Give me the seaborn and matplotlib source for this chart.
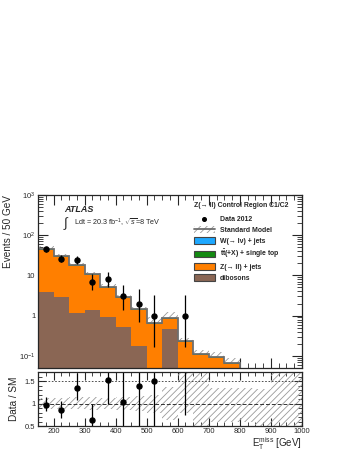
import numpy as np
import pandas as pd
import seaborn as sns
import matplotlib.pyplot as plt
from matplotlib.patches import Patch
from matplotlib.lines import Line2D
from matplotlib.ticker import MultipleLocator, LogLocator, NullFormatter

# ---------------- data ----------------
bin_low = [150, 200, 250, 300, 350, 400, 450, 500, 550, 600, 650, 700, 750, 800, 850, 900, 950]
bin_edges = bin_low + [1000]

wjets = [0.1, 0.05, 0.05, 0.02, 0.01, 0.01, 0.005, 0.0, 0.0, 0.0, 0.0, 0.0, 0.0, 0.0, 0.0, 0.0, 0.0]
ttbar = [2.5, 1.8, 1.0, 0.6, 0.3, 0.15, 0.08, 0.04, 0.04, 0.01, 0.004, 0.004, 0.002, 0.0, 0.0, 0.0, 0.0]
zjets = [38.9, 25.9, 15.6, 8.9, 4.04, 2.21, 1.17, 0.60, 0.37, 0.22, 0.106, 0.091, 0.063, 0.02, 0.015, 0.01, 0.01]
dibosons = [3.9, 2.85, 1.17, 1.4, 0.91, 0.51, 0.18, 0.03, 0.47, 0.0, 0.0, 0.0, 0.0, 0.0, 0.0, 0.0, 0.0]

data_2012 = [44, 26, 24, 7, 8, 3, 2, 1, 0, 1, 0, 0, 0, 0, 0, 0, 0]
data_err_lo = [6.6, 5.1, 4.9, 2.6, 2.8, 1.6, 1.3, 0.83, 0, 0.83, 0, 0, 0, 0, 0, 0, 0]
data_err_hi = [7.7, 6.2, 6.0, 3.8, 3.9, 2.9, 2.6, 2.3, 0, 2.3, 0, 0, 0, 0, 0, 0, 0]

# SM uncertainty (relative upper edge) in the main panel
sm_unc_up = [1.16, 1.12, 1.13, 1.13, 1.13, 1.13, 1.15, 1.37, 1.37, 1.2, 1.25, 1.34, 1.33, 1.3, 1.3, 1.3, 1.3]
# SM band in the ratio panel
ratio_band_lo = [0.88, 0.88, 0.87, 0.86, 0.87, 0.86, 0.84, 0.80, 0.63, 0.78, 0.5, 0.58, 0.58, 0.58, 0.5, 0.5, 0.5]
ratio_band_hi = [1.12, 1.13, 1.14, 1.14, 1.13, 1.15, 1.17, 1.20, 1.37, 1.7, 1.7, 1.35, 1.35, 1.35, 1.33, 1.7, 1.7]

processes = ['W(→ lν) + jets', r'$\mathregular{t\bar{t}}$(+X) + single top', 'Z(→ ll) + jets', 'dibosons']
colours = ['#1ea8ff', '#138a12', '#ff7f00', '#8a6654']

# ---------------- table for seaborn ----------------
centres = [b + 25 for b in bin_low]
rows = []
for name, vals in zip(processes, [wjets, ttbar, zjets, dibosons]):
    for c, v in zip(centres, vals):
        rows.append({'met': c, 'events': v, 'process': name})
df = pd.DataFrame(rows)

sm_total = np.array(wjets) + np.array(ttbar) + np.array(zjets) + np.array(dibosons)
data_arr = np.array(data_2012, dtype=float)
has_data = data_arr > 0

sns.set_theme(style='ticks')
plt.rcParams['font.family'] = ['Liberation Sans', 'DejaVu Sans']
plt.rcParams['mathtext.fontset'] = 'custom'
plt.rcParams['mathtext.rm'] = 'Liberation Sans'
plt.rcParams['mathtext.it'] = 'Liberation Sans:italic'
plt.rcParams['hatch.linewidth'] = 0.6

fig = plt.figure(figsize=(3.49, 4.51), dpi=100)
ax = fig.add_axes([0.109, 0.184, 0.756, 0.384])
axr = fig.add_axes([0.109, 0.0554, 0.756, 0.1197])

# ---------------- main panel ----------------
sns.histplot(data=df, x='met', weights='events', hue='process', hue_order=processes,
             multiple='stack', bins=bin_edges, element='step', palette=colours,
             alpha=1, linewidth=0, legend=False, ax=ax)

ax.stairs(sm_total * np.array(sm_unc_up), bin_edges, baseline=sm_total, fill=True,
          facecolor='none', edgecolor='#9a9a9a', hatch='/////', linewidth=0)
ax.stairs(sm_total, bin_edges, color='#6e6e6e', linewidth=1.3)

ax.errorbar(np.array(centres)[has_data], data_arr[has_data],
            yerr=[np.array(data_err_lo)[has_data], np.array(data_err_hi)[has_data]],
            fmt='o', color='black', ms=3.6, elinewidth=0.9, capsize=0)

ax.set_yscale('log')
ax.set_xlim(150, 1000)
ax.set_ylim(0.05, 1000)
ax.set_yticks([0.1, 1, 10, 100, 1000])
ax.set_yticklabels(['$10^{-1}$', '1', '10', '$10^2$', '$10^3$'])
ax.yaxis.set_minor_locator(LogLocator(base=10, subs=np.arange(2, 10)))
ax.yaxis.set_minor_formatter(NullFormatter())
ax.xaxis.set_major_locator(MultipleLocator(100))
ax.xaxis.set_minor_locator(MultipleLocator(25))
ax.tick_params(which='both', direction='in', top=True, right=True, labelbottom=False,
               labelsize=5.5, pad=2)
ax.tick_params(which='major', length=7, width=0.8)
ax.tick_params(which='minor', length=3.5, width=0.6)
ax.set_xlabel('')
ax.set_ylabel('Events / 50 GeV', fontsize=7.2, loc='top', labelpad=4)
for s in ax.spines.values():
    s.set_linewidth(0.9)

ax.text(0.098, 0.913, 'ATLAS', transform=ax.transAxes, fontsize=6.5,
        fontweight='bold', fontstyle='italic', va='center')
ax.text(0.096, 0.835, r'$\int$', transform=ax.transAxes, fontsize=9.5, va='center')
ax.text(0.135, 0.838, r'Ldt = 20.3 fb$^{-1}$, $\sqrt{s}$=8 TeV', transform=ax.transAxes,
        fontsize=5.2, va='center')

handles = [Line2D([], [], marker='o', color='black', ls='none', ms=2.6),
           (Patch(facecolor='none', edgecolor='#9a9a9a', hatch='/////', linewidth=0),
            Line2D([], [], color='#6e6e6e', lw=1.3)),
           Patch(facecolor=colours[0], edgecolor='#444444', linewidth=0.8),
           Patch(facecolor=colours[1], edgecolor='#444444', linewidth=0.8),
           Patch(facecolor=colours[2], edgecolor='#444444', linewidth=0.8),
           Patch(facecolor=colours[3], edgecolor='#444444', linewidth=0.8)]
labels = ['Data 2012', 'Standard Model'] + processes
leg = ax.legend(handles, labels, loc='upper left', bbox_to_anchor=(0.59, 0.96),
                frameon=False, prop={'size': 4.95, 'weight': 'bold'},
                title='Z(→ ll) Control Region C1/C2',
                title_fontproperties={'size': 4.95, 'weight': 'bold'},
                alignment='left', handlelength=3.1, handleheight=1.15,
                handletextpad=0.75, labelspacing=0.43, borderaxespad=0, borderpad=0)
leg._legend_box.sep = 5

# ---------------- ratio panel ----------------
ratio = data_arr / sm_total
ratio_lo = np.array(data_err_lo) / sm_total
ratio_hi = np.array(data_err_hi) / sm_total

axr.stairs(ratio_band_hi, bin_edges, baseline=ratio_band_lo, fill=True,
           facecolor='none', edgecolor='#9a9a9a', hatch='/////', linewidth=0)
axr.axhline(1.5, color='#333333', lw=0.6, ls=(0, (2, 2)))
axr.axhline(1.0, color='#333333', lw=0.7, ls=(0, (4, 2)))
axr.errorbar(np.array(centres)[has_data], ratio[has_data],
             yerr=[ratio_lo[has_data], ratio_hi[has_data]],
             fmt='o', color='black', ms=3.6, elinewidth=0.9, capsize=0)

axr.set_xlim(150, 1000)
axr.set_ylim(0.5, 1.7)
axr.set_yticks([0.5, 1, 1.5])
axr.set_yticklabels(['0.5', '1', '1.5'])
axr.yaxis.set_minor_locator(MultipleLocator(0.1))
axr.xaxis.set_major_locator(MultipleLocator(100))
axr.xaxis.set_minor_locator(MultipleLocator(25))
axr.tick_params(which='both', direction='in', top=True, right=True, labelsize=5.5)
axr.tick_params(axis='x', which='both', pad=1.5)
axr.tick_params(axis='y', which='both', pad=2)
axr.tick_params(which='major', length=6, width=0.8)
axr.tick_params(which='minor', length=3, width=0.6)
axr.set_ylabel('Data / SM', fontsize=7.2, labelpad=4)
axr.set_xlabel(r'$\mathregular{E_T^{miss}}$ [GeV]', fontsize=7, loc='right', labelpad=0)
for s in axr.spines.values():
    s.set_linewidth(0.9)

fig.savefig('out.png', dpi=100)
